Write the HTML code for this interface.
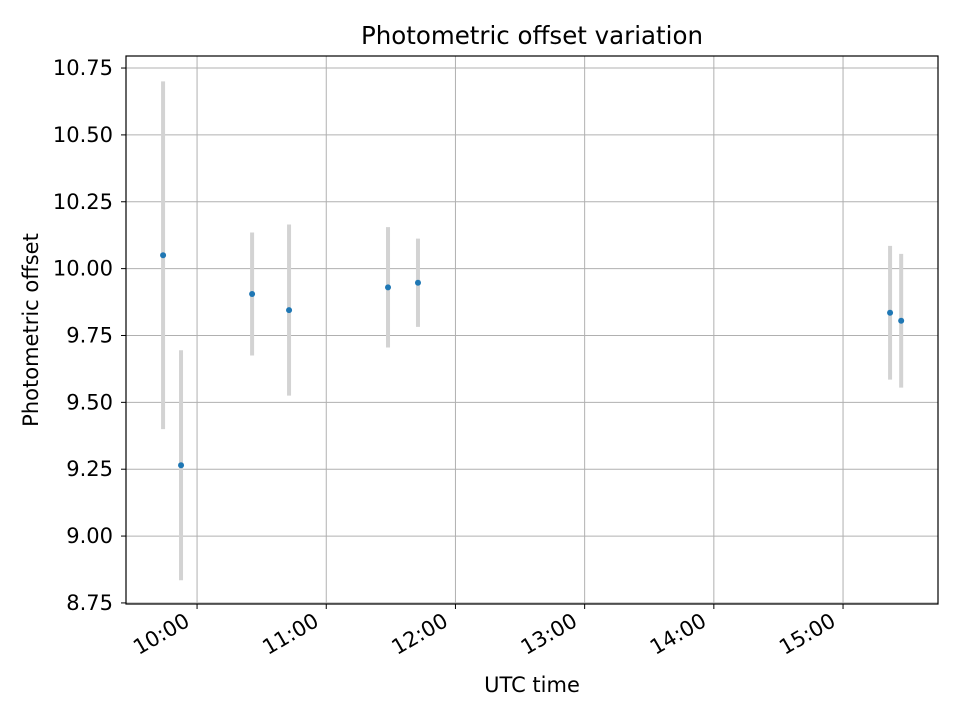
<!DOCTYPE html>
<html><head><meta charset="utf-8"><style>
body{margin:0;background:#fff;font-family:"Liberation Sans","DejaVu Sans",sans-serif;}
svg text{font-family:"DejaVu Sans","Liberation Sans",sans-serif;}
</style></head><body>
<svg id="chart" width="960" height="720" xmlns="http://www.w3.org/2000/svg">
<rect width="960" height="720" fill="#fff"/>
<g id="grid"></g>
<g id="bars"></g>
<g id="pts"></g>
<rect x="126" y="56" width="812" height="548" fill="none" stroke="#000" stroke-width="1.2"/>
<g id="ticks"></g>
<text x="532" y="44" text-anchor="middle" font-size="24.5">Photometric offset variation</text>
<text x="532" y="692" text-anchor="middle" font-size="21">UTC time</text>
<text transform="translate(38,330) rotate(-90)" text-anchor="middle" font-size="21">Photometric offset</text>
</svg>
<script>
const times=[9.737,9.876,10.426,10.712,11.478,11.71,15.364,15.45];
const values=[10.05,9.265,9.905,9.845,9.93,9.947,9.835,9.805];
const errors=[0.65,0.43,0.23,0.32,0.225,0.165,0.25,0.25];
const yTicks=[8.75,9.0,9.25,9.5,9.75,10.0,10.25,10.5,10.75];
const xTicks=[10,11,12,13,14,15];
const xTickLabels=["10:00","11:00","12:00","13:00","14:00","15:00"];
const L=126,R=938,T=56,B=604;
const x0=9.45,x1=15.735,y0=8.746,y1=10.795;
const sx=v=>L+(v-x0)/(x1-x0)*(R-L);
const sy=v=>B-(v-y0)/(y1-y0)*(B-T);
const NS="http://www.w3.org/2000/svg";
function mk(p,tag,a){const e=document.createElementNS(NS,tag);for(const k in a)e.setAttribute(k,a[k]);p.appendChild(e);return e;}
const g=document.getElementById('grid'),tk=document.getElementById('ticks'),bars=document.getElementById('bars'),pts=document.getElementById('pts');
yTicks.forEach(v=>{const y=sy(v);
 const l=mk(g,'line',{x1:L,x2:R,y1:y,y2:y,stroke:'#b0b0b0','stroke-width':1});
 
 mk(tk,'line',{x1:L-5,x2:L,y1:y,y2:y,stroke:'#000'});
 const t=mk(tk,'text',{x:L-13,y:y+7,'text-anchor':'end','font-size':21});t.textContent=v.toFixed(2);
 });
xTicks.forEach((v,i)=>{const x=sx(v);
 const l=mk(g,'line',{x1:x,x2:x,y1:T,y2:B,stroke:'#b0b0b0','stroke-width':1});
 
 mk(tk,'line',{x1:x,x2:x,y1:B,y2:B+5,stroke:'#000'});
 const t=mk(tk,'text',{transform:`translate(${x-6},${B+21}) rotate(-30)`,'text-anchor':'end','font-size':21});t.textContent=xTickLabels[i];
 });
times.forEach((tv,i)=>{const x=sx(tv);
 const b=mk(bars,'line',{x1:x,x2:x,y1:sy(values[i]+errors[i]),y2:sy(values[i]-errors[i]),stroke:'#d3d3d3','stroke-width':4});
 
 const c=mk(pts,'circle',{cx:x,cy:sy(values[i]),r:3,fill:'#1f77b4'});
 });
</script>
</body></html>
